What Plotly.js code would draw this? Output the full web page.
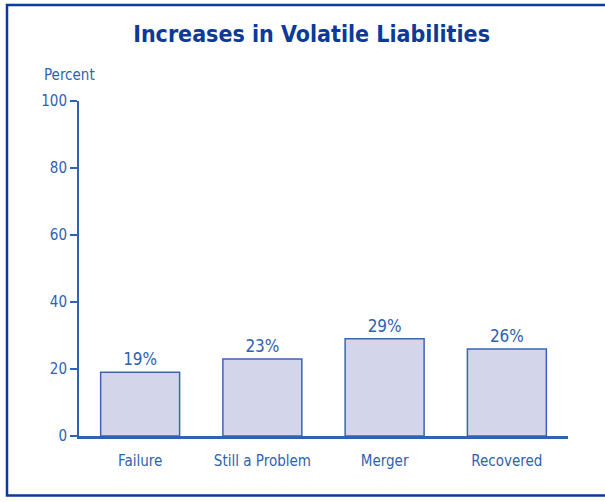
<!DOCTYPE html>
<html>
<head>
<meta charset="utf-8">
<script src="https://cdn.plot.ly/plotly-3.0.1.min.js"></script>
<style>html,body{margin:0;padding:0;background:#fff;}#chart{width:605px;height:502px;}</style>
</head>
<body>
<div id="chart"></div>
<script>
var categories = ["Failure", "Still a Problem", "Merger", "Recovered"];
var values = [19, 23, 29, 26];
var labels = ["19%", "23%", "29%", "26%"];
var yTicks = [0, 20, 40, 60, 80, 100];

var FONT = "'Liberation Sans Narrow', 'DejaVu Sans Condensed', Arial, sans-serif";
var TXT = "#2f62b0";
var DARK = "#0b3a97";

var trace = {
  type: "bar",
  x: categories,
  y: values,
  text: labels,
  textposition: "outside",
  cliponaxis: false,
  textfont: {family: FONT, size: 17, color: TXT},
  marker: {color: "#d3d5ea", line: {color: "#3a66b0", width: 1.5}},
  hoverinfo: "skip"
};

var layout = {
  width: 605, height: 502,
  margin: {l: 79, r: 37, t: 101, b: 66},
  paper_bgcolor: "#ffffff",
  plot_bgcolor: "#ffffff",
  bargap: 0.354,
  showlegend: false,
  title: {
    text: "<b>Increases in Volatile Liabilities</b>",
    font: {family: FONT, size: 23, color: DARK},
    x: 0.515, xanchor: "center", y: 0.932, yanchor: "middle"
  },
  xaxis: {
    type: "category",
    range: [-0.5, 3.5],
    showgrid: false, zeroline: false,
    showline: true, linecolor: "#2f62b0", linewidth: 2.5,
    ticks: "", ticklabelstandoff: 9,
    tickfont: {family: FONT, size: 15, color: TXT}
  },
  yaxis: {
    range: [0, 100],
    tickvals: yTicks,
    showgrid: false, zeroline: false,
    showline: true, linecolor: "#2f62b0", linewidth: 2,
    ticks: "outside", ticklen: 7, tickwidth: 1.5, tickcolor: "#2f62b0",
    tickfont: {family: FONT, size: 15, color: TXT}
  },
  annotations: [{
    text: "Percent", xref: "paper", yref: "paper",
    x: (42 - 79) / 489, y: (436 - 75) / 335,
    xanchor: "left", yanchor: "middle", showarrow: false,
    font: {family: FONT, size: 15, color: TXT}
  }],
  shapes: [{
    type: "rect", xref: "paper", yref: "paper",
    x0: (7 - 79) / 489, x1: (640 - 79) / 489,
    y0: (436 - 495.5) / 335, y1: (436 - 5) / 335,
    line: {color: DARK, width: 2.5}, fillcolor: "rgba(0,0,0,0)", layer: "below"
  }]
};

Plotly.newPlot("chart", [trace], layout, {staticPlot: true, displayModeBar: false});
</script>
</body>
</html>
